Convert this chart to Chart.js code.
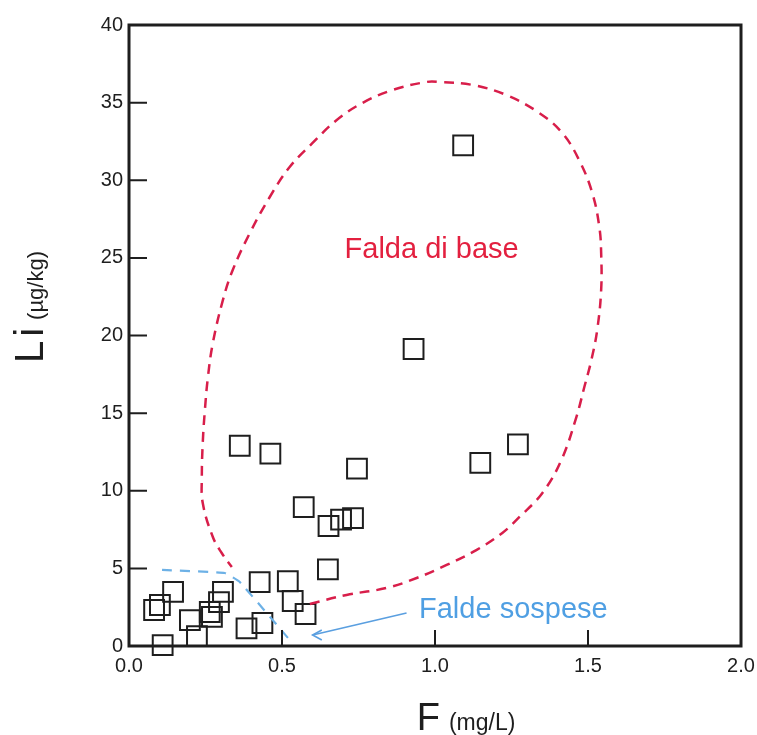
<!DOCTYPE html>
<html>
<head>
<meta charset="utf-8">
<script src="https://cdn.jsdelivr.net/npm/chart.js@4.4.0/dist/chart.umd.min.js"></script>
<style>
  body { margin: 0; background: #fff; }
  #chart-1 { display: block; }
</style>
</head>
<body>
<canvas id="chart-1" width="757" height="735"></canvas>
<script>
// campioni: F (mg/L) e Li (µg/kg)
const campioniF = [1.092, 0.930, 0.362, 0.462, 0.745, 1.148, 1.271, 0.571, 0.652, 0.693,
    0.732, 0.650, 0.427, 0.519, 0.535, 0.577, 0.436, 0.384, 0.110, 0.222,
    0.199, 0.144, 0.101, 0.082, 0.264, 0.271, 0.294, 0.307];
const campioniLi = [32.25, 19.13, 12.90, 12.39, 11.42, 11.79, 12.99, 8.95, 7.73, 8.14,
    8.24, 4.93, 4.12, 4.17, 2.90, 2.06, 1.48, 1.14, 0.05, 0.64,
    1.67, 3.48, 2.64, 2.32, 2.19, 1.87, 2.83, 3.48];

// contorno "Falda di base"
const baseF = [0.591, 0.711, 0.842, 0.940, 1.038, 1.135, 1.220, 1.276, 1.351, 1.413,
    1.462, 1.488, 1.511, 1.530, 1.543, 1.543, 1.537, 1.514, 1.471, 1.416,
    1.341, 1.233, 1.122, 1.015, 0.972, 0.861, 0.763, 0.679, 0.600, 0.525,
    0.460, 0.395, 0.339, 0.307, 0.274, 0.258, 0.248, 0.241, 0.238, 0.241,
    0.274, 0.303, 0.336];
const baseLi = [2.71, 3.29, 3.74, 4.38, 5.22, 6.18, 7.28, 8.31, 9.86, 11.98,
    14.75, 16.68, 18.42, 20.35, 22.93, 25.31, 26.99, 29.18, 31.30, 33.04,
    34.33, 35.49, 36.14, 36.33, 36.33, 35.81, 34.98, 33.88, 32.40, 30.85,
    28.92, 26.60, 24.22, 22.29, 19.52, 17.33, 15.20, 13.08, 10.89, 9.21,
    7.02, 5.99, 5.09];

// limite "Falde sospese"
const sospeseF = [0.108, 0.313, 0.362, 0.525];
const sospeseLi = [4.90, 4.70, 4.12, 0.39];

// freccia
const frecciaF = [0.907, 0.600];
const frecciaLi = [2.13, 0.71];
const puntaF = [0.630, 0.600, 0.630];
const puntaLi = [1.03, 0.71, 0.39];

const xTicks = [0, 0.5, 1.0, 1.5, 2.0];
const yTicks = [0, 5, 10, 15, 20, 25, 30, 35, 40];

const etichette = ['Falda di base', 'Falde sospese'];
const etichetteF = [0.989, 1.256];
const etichetteLi = [25.5, 2.32];
const etichetteColori = ['#e3203f', '#4f9fe3'];

const toXY = (xs, ys) => xs.map((x, i) => ({ x: x, y: ys[i] }));

const RED = '#d81e4a';
const BLUE = '#6db1e6';
const FONT = '"Liberation Sans", Arial, sans-serif';

const extras = {
    id: 'extras',
    afterDatasetsDraw(chart) {
        const { ctx, chartArea: a, scales: { x, y } } = chart;
        ctx.save();
        // cornice
        ctx.strokeStyle = '#1e1e1e';
        ctx.lineWidth = 3;
        ctx.strokeRect(a.left, a.top, a.right - a.left, a.bottom - a.top);
        // tacche interne
        ctx.lineWidth = 2;
        ctx.beginPath();
        xTicks.slice(1, -1).forEach(v => {
            const px = x.getPixelForValue(v);
            ctx.moveTo(px, a.bottom);
            ctx.lineTo(px, a.bottom - 16);
        });
        yTicks.slice(1, -1).forEach(v => {
            const py = y.getPixelForValue(v);
            ctx.moveTo(a.left, py);
            ctx.lineTo(a.left + 18, py);
        });
        ctx.stroke();

        // testi nel grafico
        ctx.font = '29px ' + FONT;
        ctx.textAlign = 'center';
        ctx.textBaseline = 'middle';
        etichette.forEach((t, i) => {
            ctx.fillStyle = etichetteColori[i];
            ctx.fillText(t, x.getPixelForValue(etichetteF[i]), y.getPixelForValue(etichetteLi[i]));
        });

        // titoli assi
        ctx.fillStyle = '#1e1e1e';
        ctx.textAlign = 'left';
        ctx.textBaseline = 'alphabetic';
        // asse x
        ctx.font = '38px ' + FONT;
        const wF = ctx.measureText('F').width;
        ctx.font = '23px ' + FONT;
        const wU = ctx.measureText('(mg/L)').width;
        let sx = 466 - (wF + 9 + wU) / 2;
        ctx.font = '38px ' + FONT;
        ctx.fillText('F', sx, 730);
        ctx.font = '23px ' + FONT;
        ctx.fillText('(mg/L)', sx + wF + 9, 730);
        // asse y
        ctx.translate(43, 0);
        ctx.rotate(-Math.PI / 2);
        ctx.font = '40px ' + FONT;
        const wL = ctx.measureText('Li').width + 4;
        ctx.font = '22px ' + FONT;
        const wU2 = ctx.measureText('(µg/kg)').width;
        sx = -307 - (wL + 8 + wU2) / 2;
        ctx.font = '40px ' + FONT;
        ctx.fillText('L', sx, 0);
        ctx.fillText('i', sx + ctx.measureText('L').width + 4, 0);
        ctx.font = '22px ' + FONT;
        ctx.fillText('(µg/kg)', sx + wL + 8, 0);
        ctx.restore();
    }
};

const lineDs = (data, color, dash, width) => ({
    type: 'scatter',
    data: data,
    showLine: true,
    borderColor: color,
    borderWidth: width,
    borderDash: dash,
    pointRadius: 0,
    fill: false,
    tension: 0.4
});

const data = {
    datasets: [
        Object.assign(lineDs(toXY(baseF, baseLi), RED, [10, 7], 2.5), { label: 'Falda di base' }),
        Object.assign(lineDs(toXY(sospeseF, sospeseLi), BLUE, [10, 8], 2.2), { label: 'Falde sospese', tension: 0.1 }),
        Object.assign(lineDs(toXY(frecciaF, frecciaLi), '#5a9fe0', [], 1.6), { tension: 0 }),
        Object.assign(lineDs(toXY(puntaF, puntaLi), '#5a9fe0', [], 1.6), { tension: 0 }),
        {
            type: 'scatter',
            label: 'Campioni',
            data: toXY(campioniF, campioniLi),
            pointStyle: 'rect',
            pointRadius: 14,
            borderColor: '#1e1e1e',
            borderWidth: 2,
            backgroundColor: 'rgba(0,0,0,0)',
            clip: false
        }
    ]
};

const tickFont = { family: FONT, size: 20 };

const config = {
    type: 'scatter',
    data: data,
    options: {
        responsive: false,
        animation: false,
        layout: { padding: { left: 0, top: 25, right: 15, bottom: 0 } },
        plugins: {
            legend: { display: false },
            tooltip: { enabled: false }
        },
        scales: {
            x: {
                type: 'linear',
                min: 0,
                max: 2,
                afterBuildTicks: (s) => { s.ticks = xTicks.map(v => ({ value: v })); },
                afterFit: (s) => { s.height = 89; s.paddingLeft = 0; s.paddingRight = 0; },
                grid: { display: false, drawTicks: false },
                border: { display: false },
                ticks: {
                    color: '#1e1e1e',
                    font: tickFont,
                    padding: 8,
                    callback: (v) => v.toFixed(1)
                }
            },
            y: {
                type: 'linear',
                min: 0,
                max: 40,
                afterBuildTicks: (s) => { s.ticks = yTicks.map(v => ({ value: v })); },
                afterFit: (s) => { s.width = 129; s.paddingTop = 0; s.paddingBottom = 0; },
                grid: { display: false, drawTicks: false },
                border: { display: false },
                ticks: {
                    color: '#1e1e1e',
                    font: tickFont,
                    padding: 6
                }
            }
        }
    },
    plugins: [extras]
};

const ctx = document.getElementById('chart-1').getContext('2d');
new Chart(ctx, config);
</script>
</body>
</html>
